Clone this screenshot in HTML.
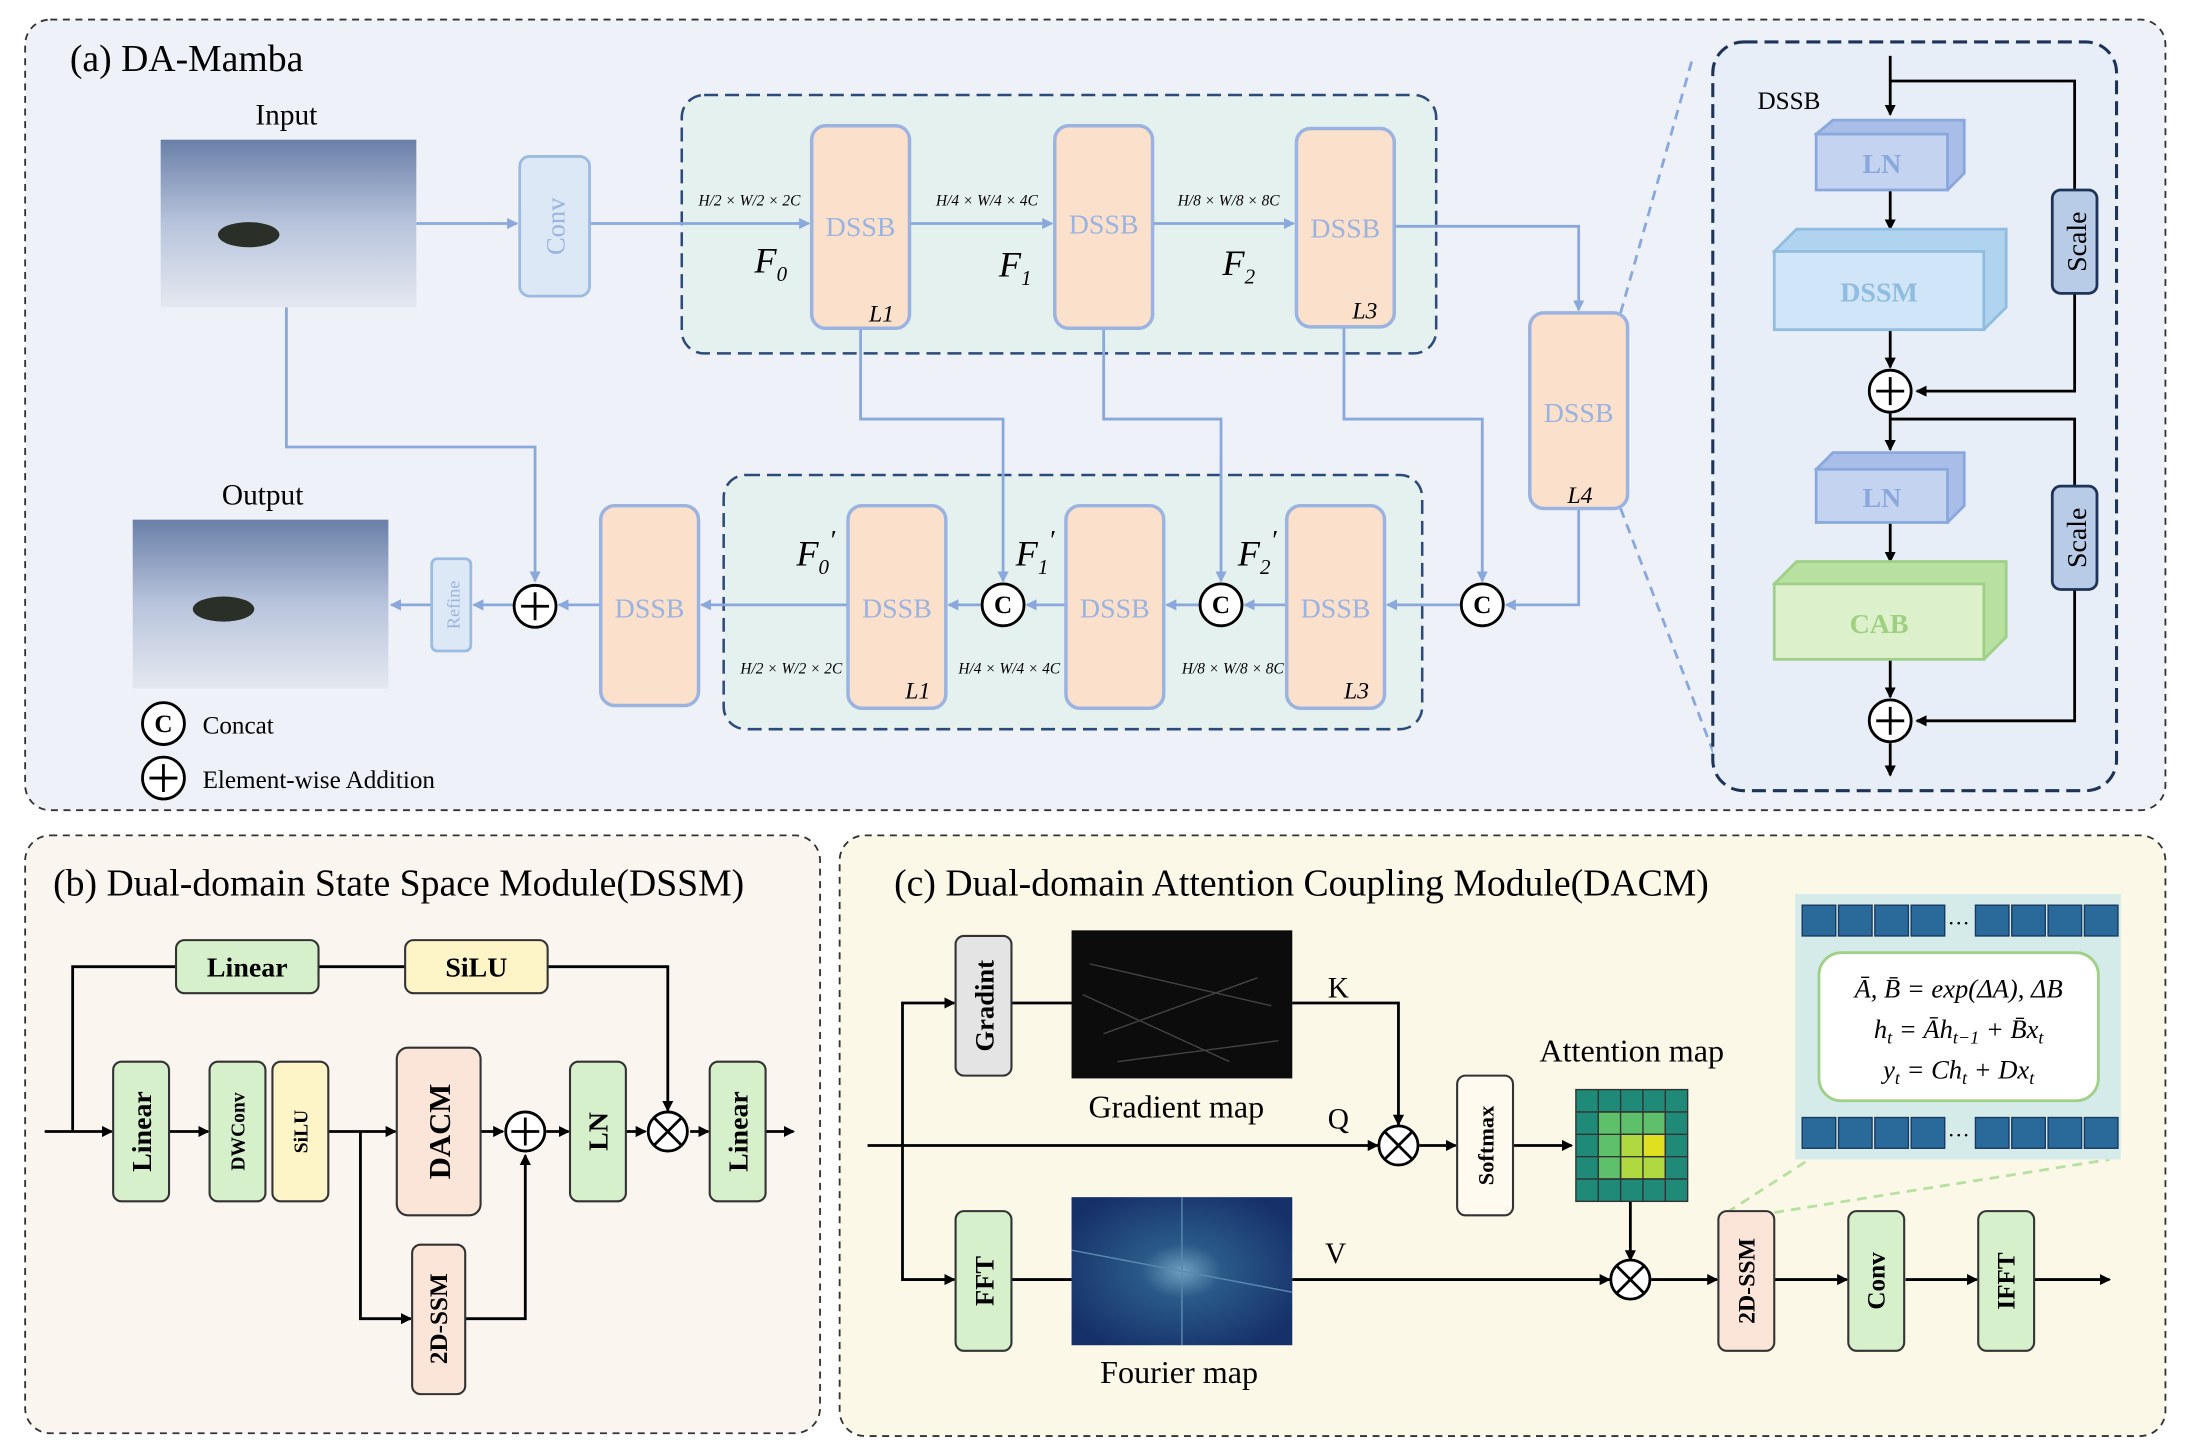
<!DOCTYPE html>
<html><head><meta charset="utf-8"><style>
html,body{margin:0;padding:0;background:#fff}
svg{display:block}
text{font-family:"Liberation Serif",serif}
</style></head><body>
<svg width="2185" height="1450" viewBox="0 0 1564 1038" preserveAspectRatio="none" xmlns="http://www.w3.org/2000/svg">
<defs>
<marker id="ab" markerWidth="8" markerHeight="8" refX="7" refY="4" orient="auto" markerUnits="userSpaceOnUse"><path d="M0,0 L8,4 L0,8 Z" fill="#8aa8dc"/></marker>
<marker id="ak" markerWidth="8" markerHeight="8" refX="7" refY="4" orient="auto" markerUnits="userSpaceOnUse"><path d="M0,0 L8,4 L0,8 Z" fill="#000"/></marker>
<linearGradient id="snow" x1="0" y1="0" x2="0" y2="1"><stop offset="0" stop-color="#6a7fa8"/><stop offset="0.5" stop-color="#b8c4dc"/><stop offset="1" stop-color="#e4e8f0"/></linearGradient>
<radialGradient id="four" cx="0.5" cy="0.5" r="0.6"><stop offset="0" stop-color="#6fa0c0"/><stop offset="0.3" stop-color="#2a5a88"/><stop offset="1" stop-color="#16306a"/></radialGradient>
</defs>
<rect width="1564" height="1038" fill="#fff"/>
<!-- Panel a -->
<rect x="18" y="14" width="1532" height="566" rx="18" fill="#eef2f8" stroke="#333" stroke-dasharray="5,4" stroke-width="1.3"/>
<text x="50" y="51" font-size="27">(a) DA-Mamba</text>
<text x="205" y="89" font-size="21" text-anchor="middle">Input</text>
<rect x="115" y="100" width="183" height="120" fill="url(#snow)"/>
<ellipse cx="178" cy="168" rx="22" ry="9" fill="#2a3028"/>
<text x="188" y="361" font-size="21" text-anchor="middle">Output</text>
<rect x="95" y="372" width="183" height="121" fill="url(#snow)"/>
<ellipse cx="160" cy="436" rx="22" ry="9" fill="#2a3028"/>
<!-- enc/dec boxes -->
<rect x="488" y="68" width="540" height="185" rx="16" fill="#e4f1ee" stroke="#2c4a7a" stroke-dasharray="10,5" stroke-width="1.8"/>
<rect x="518" y="340" width="500" height="182" rx="16" fill="#e4f1ee" stroke="#2c4a7a" stroke-dasharray="10,5" stroke-width="1.8"/>
<g fill="none" stroke="#8aa8dc" stroke-width="2">
<path d="M298,160 H370" marker-end="url(#ab)"/>
<path d="M422,160 H579" marker-end="url(#ab)"/>
<path d="M651,160 H753" marker-end="url(#ab)"/>
<path d="M825,160 H926" marker-end="url(#ab)"/>
<path d="M998,162 H1130 V222" marker-end="url(#ab)"/>
<path d="M1130,364 V433 H1078" marker-end="url(#ab)"/>
<path d="M1046,433 H993" marker-end="url(#ab)"/>
<path d="M921,433 H891" marker-end="url(#ab)"/>
<path d="M859,433 H835" marker-end="url(#ab)"/>
<path d="M763,433 H735" marker-end="url(#ab)"/>
<path d="M703,433 H679" marker-end="url(#ab)"/>
<path d="M607,433 H502" marker-end="url(#ab)"/>
<path d="M430,433 H400" marker-end="url(#ab)"/>
<path d="M368,433 H339" marker-end="url(#ab)"/>
<path d="M309,433 H280" marker-end="url(#ab)"/>
<path d="M205,220 V320 H383 V416" marker-end="url(#ab)"/>
<path d="M616,235 V300 H718 V416" marker-end="url(#ab)"/>
<path d="M790,235 V300 H874 V416" marker-end="url(#ab)"/>
<path d="M962,234 V300 H1061 V416" marker-end="url(#ab)"/>
<path d="M1160,224 L1212,40" stroke-dasharray="7,5"/>
<path d="M1160,364 L1230,548" stroke-dasharray="7,5"/>
</g>
<rect x="372" y="112" width="50" height="100" rx="7" fill="#dce8f5" stroke="#9bbbe0" stroke-width="2"/>
<text transform="translate(404,162) rotate(-90)" font-size="19" fill="#9bb3e0" text-anchor="middle">Conv</text>
<rect x="309" y="400" width="28" height="66" rx="4" fill="#dce8f5" stroke="#9bbbe0" stroke-width="2"/>
<text transform="translate(329,433) rotate(-90)" font-size="13" fill="#9bb3e0" text-anchor="middle">Refine</text>
<g fill="#fbe0cc" stroke="#9bb3e0" stroke-width="2.5">
<rect x="581" y="90" width="70" height="145" rx="10"/>
<rect x="755" y="90" width="70" height="145" rx="10"/>
<rect x="928" y="92" width="70" height="142" rx="10"/>
<rect x="1095" y="224" width="70" height="140" rx="10"/>
<rect x="607" y="362" width="70" height="145" rx="10"/>
<rect x="763" y="362" width="70" height="145" rx="10"/>
<rect x="921" y="362" width="70" height="145" rx="10"/>
<rect x="430" y="362" width="70" height="143" rx="10"/>
</g>
<g font-size="20" fill="#9bb3e0" text-anchor="middle">
<text x="616" y="169">DSSB</text><text x="790" y="167">DSSB</text><text x="963" y="170">DSSB</text>
<text x="1130" y="302">DSSB</text><text x="642" y="442">DSSB</text><text x="798" y="442">DSSB</text>
<text x="956" y="442">DSSB</text><text x="465" y="442">DSSB</text>
</g>
<g font-size="17" font-style="italic">
<text x="622" y="230">L1</text><text x="968" y="228">L3</text><text x="1122" y="360">L4</text>
<text x="648" y="500">L1</text><text x="962" y="500">L3</text>
</g>
<g font-size="26" font-style="italic">
<text x="540" y="195">F<tspan font-size="15" dy="6">0</tspan></text>
<text x="715" y="198">F<tspan font-size="15" dy="6">1</tspan></text>
<text x="875" y="197">F<tspan font-size="15" dy="6">2</tspan></text>
<text x="570" y="405">F<tspan font-size="15" dy="6">0</tspan><tspan dy="-18" font-size="20">′</tspan></text>
<text x="727" y="405">F<tspan font-size="15" dy="6">1</tspan><tspan dy="-18" font-size="20">′</tspan></text>
<text x="886" y="405">F<tspan font-size="15" dy="6">2</tspan><tspan dy="-18" font-size="20">′</tspan></text>
</g>
<g font-size="11" font-style="italic">
<text x="500" y="147">H/2 × W/2 × 2C</text><text x="670" y="147">H/4 × W/4 × 4C</text><text x="843" y="147">H/8 × W/8 × 8C</text>
<text x="530" y="482">H/2 × W/2 × 2C</text><text x="686" y="482">H/4 × W/4 × 4C</text><text x="846" y="482">H/8 × W/8 × 8C</text>
</g>
<g fill="#fff" stroke="#000" stroke-width="2">
<circle cx="383" cy="434" r="15"/><circle cx="718" cy="433" r="15"/><circle cx="874" cy="433" r="15"/><circle cx="1061" cy="433" r="15"/>
<circle cx="117" cy="518" r="15"/><circle cx="117" cy="557" r="15"/>
</g>
<g stroke="#000" stroke-width="2"><path d="M373,434 H393 M383,424 V444 M107,557 H127 M117,547 V567"/></g>
<g font-size="18" font-weight="bold" text-anchor="middle" font-family="Liberation Sans">
<text x="718" y="439">C</text><text x="874" y="439">C</text><text x="1061" y="439">C</text><text x="117" y="524">C</text>
</g>
<text x="145" y="525" font-size="18">Concat</text>
<text x="145" y="564" font-size="18">Element-wise Addition</text>
<!-- DSSB detail -->
<rect x="1226" y="30" width="289" height="536" rx="22" fill="#e8eef8" stroke="#1e3358" stroke-dasharray="10,5" stroke-width="2.2"/>
<text x="1258" y="78" font-size="18" font-family="Liberation Sans">DSSB</text>
<g fill="none" stroke="#000" stroke-width="2">
<path d="M1353,40 V82" marker-end="url(#ak)"/>
<path d="M1353,58 H1485 V280 H1372" marker-end="url(#ak)"/>
<path d="M1353,136 V164" marker-end="url(#ak)"/>
<path d="M1353,236 V263" marker-end="url(#ak)"/>
<path d="M1353,296 V322" marker-end="url(#ak)"/>
<path d="M1353,300 H1485 V516 H1372" marker-end="url(#ak)"/>
<path d="M1353,374 V402" marker-end="url(#ak)"/>
<path d="M1353,472 V499" marker-end="url(#ak)"/>
<path d="M1353,532 V555" marker-end="url(#ak)"/>
</g>
<g stroke-width="2">
<path d="M1300,96 L1312,86 H1406 V124 L1394,136 Z" fill="#a8bde8" stroke="#8aa8dc"/>
<rect x="1300" y="96" width="94" height="40" fill="#c4d4f0" stroke="#8aa8dc"/>
<path d="M1270,180 L1286,164 H1436 V220 L1420,236 Z" fill="#b0d4f0" stroke="#90bce0"/>
<rect x="1270" y="180" width="150" height="56" fill="#d0e6f8" stroke="#90bce0"/>
<path d="M1300,336 L1312,324 H1406 V362 L1394,374 Z" fill="#a8bde8" stroke="#8aa8dc"/>
<rect x="1300" y="336" width="94" height="38" fill="#c4d4f0" stroke="#8aa8dc"/>
<path d="M1270,418 L1286,402 H1436 V456 L1420,472 Z" fill="#b8e0a0" stroke="#a0d088"/>
<rect x="1270" y="418" width="150" height="54" fill="#dcf0cc" stroke="#a0d088"/>
</g>
<g font-size="20" font-weight="bold" text-anchor="middle" fill="#8aa8dc">
<text x="1347" y="124">LN</text><text x="1345" y="216" fill="#90bce0">DSSM</text><text x="1347" y="363">LN</text><text x="1345" y="453" fill="#9ed080">CAB</text>
</g>
<g fill="#fff" stroke="#000" stroke-width="2"><circle cx="1353" cy="280" r="15"/><circle cx="1353" cy="516" r="15"/></g>
<path d="M1343,280 H1363 M1353,270 V290 M1343,516 H1363 M1353,506 V526" stroke="#000" stroke-width="2"/>
<rect x="1469" y="136" width="32" height="74" rx="6" fill="#b8cce8" stroke="#1e3358" stroke-width="2"/>
<rect x="1469" y="348" width="32" height="74" rx="6" fill="#b8cce8" stroke="#1e3358" stroke-width="2"/>
<text transform="translate(1493,173) rotate(-90)" font-size="20" text-anchor="middle" font-family="Liberation Sans">Scale</text>
<text transform="translate(1493,385) rotate(-90)" font-size="20" text-anchor="middle" font-family="Liberation Sans">Scale</text>
<!-- Panel b -->
<rect x="18" y="598" width="569" height="428" rx="18" fill="#fbf5f0" stroke="#333" stroke-dasharray="5,4" stroke-width="1.3"/>
<text x="38" y="641" font-size="27">(b) Dual-domain State Space Module(DSSM)</text>
<g fill="none" stroke="#000" stroke-width="2">
<path d="M32,810 H80" marker-end="url(#ak)"/>
<path d="M52,810 V692 H126 M228,692 H290 M392,692 H478 V795" marker-end="url(#ak)"/>
<path d="M121,810 H149" marker-end="url(#ak)"/>
<path d="M235,810 H283" marker-end="url(#ak)"/>
<path d="M258,810 V944 H294" marker-end="url(#ak)"/>
<path d="M344,810 H360" marker-end="url(#ak)"/>
<path d="M333,944 H376 V827" marker-end="url(#ak)"/>
<path d="M391,810 H407" marker-end="url(#ak)"/>
<path d="M448,810 H462" marker-end="url(#ak)"/>
<path d="M494,810 H507" marker-end="url(#ak)"/>
<path d="M548,810 H568" marker-end="url(#ak)"/>
</g>
<g stroke="#333" stroke-width="1.5">
<rect x="126" y="673" width="102" height="38" rx="6" fill="#d6f0cc"/>
<rect x="290" y="673" width="102" height="38" rx="6" fill="#fdf4c8"/>
<rect x="81" y="760" width="40" height="100" rx="6" fill="#d6f0cc"/>
<rect x="150" y="760" width="40" height="100" rx="6" fill="#d6f0cc"/>
<rect x="195" y="760" width="40" height="100" rx="6" fill="#fdf4c8"/>
<rect x="284" y="750" width="60" height="120" rx="8" fill="#fbe4d8"/>
<rect x="295" y="891" width="38" height="107" rx="6" fill="#fbe4d8"/>
<rect x="408" y="760" width="40" height="100" rx="6" fill="#d6f0cc"/>
<rect x="508" y="760" width="40" height="100" rx="6" fill="#d6f0cc"/>
</g>
<g font-weight="bold" text-anchor="middle">
<text x="177" y="699" font-size="20">Linear</text><text x="341" y="699" font-size="20">SiLU</text>
<text transform="translate(108,810) rotate(-90)" font-size="20">Linear</text>
<text transform="translate(175,810) rotate(-90)" font-size="14">DWConv</text>
<text transform="translate(220,810) rotate(-90)" font-size="14">SiLU</text>
<text transform="translate(322,810) rotate(-90)" font-size="22">DACM</text>
<text transform="translate(320,944) rotate(-90)" font-size="18">2D-SSM</text>
<text transform="translate(435,810) rotate(-90)" font-size="20">LN</text>
<text transform="translate(535,810) rotate(-90)" font-size="20">Linear</text>
</g>
<g fill="#fff" stroke="#000" stroke-width="2"><circle cx="376" cy="810" r="14"/><circle cx="478" cy="810" r="14"/></g>
<path d="M366,810 H386 M376,800 V820 M468,800 L488,820 M488,800 L468,820" stroke="#000" stroke-width="2"/>
<!-- Panel c -->
<rect x="601" y="598" width="949" height="430" rx="18" fill="#fbf8e8" stroke="#333" stroke-dasharray="5,4" stroke-width="1.3"/>
<text x="640" y="641" font-size="27">(c) Dual-domain Attention Coupling Module(DACM)</text>
<g fill="none" stroke="#000" stroke-width="2">
<path d="M621,820 H986" marker-end="url(#ak)"/>
<path d="M646,820 V718 H683" marker-end="url(#ak)"/>
<path d="M646,820 V916 H683" marker-end="url(#ak)"/>
<path d="M724,718 H767 M925,718 H1001 V805" marker-end="url(#ak)"/>
<path d="M1016,820 H1042" marker-end="url(#ak)"/>
<path d="M1082,820 H1125" marker-end="url(#ak)"/>
<path d="M1167,860 V902" marker-end="url(#ak)"/>
<path d="M724,916 H767 M925,916 H1152" marker-end="url(#ak)"/>
<path d="M1182,916 H1229" marker-end="url(#ak)"/>
<path d="M1270,916 H1322" marker-end="url(#ak)"/>
<path d="M1364,916 H1415" marker-end="url(#ak)"/>
<path d="M1456,916 H1510" marker-end="url(#ak)"/>
</g>
<path d="M1236,868 L1295,830 M1270,868 L1510,830" stroke="#b8e0a0" stroke-width="2" stroke-dasharray="7,5" fill="none"/>
<g stroke="#333" stroke-width="1.5">
<rect x="684" y="670" width="40" height="100" rx="6" fill="#e4e4e4"/>
<rect x="684" y="867" width="40" height="100" rx="6" fill="#d6f0cc"/>
<rect x="1043" y="770" width="40" height="100" rx="6" fill="#fffaf0"/>
<rect x="1230" y="867" width="40" height="100" rx="6" fill="#fbe4d8"/>
<rect x="1323" y="867" width="40" height="100" rx="6" fill="#d6f0cc"/>
<rect x="1416" y="867" width="40" height="100" rx="6" fill="#d6f0cc"/>
</g>
<g font-weight="bold" text-anchor="middle">
<text transform="translate(711,720) rotate(-90)" font-size="19">Gradint</text>
<text transform="translate(711,917) rotate(-90)" font-size="19">FFT</text>
<text transform="translate(1069,820) rotate(-90)" font-size="16">Softmax</text>
<text transform="translate(1256,917) rotate(-90)" font-size="17">2D-SSM</text>
<text transform="translate(1349,917) rotate(-90)" font-size="18">Conv</text>
<text transform="translate(1442,917) rotate(-90)" font-size="18">IFFT</text>
</g>
<rect x="767" y="666" width="158" height="106" fill="#0c0c0c"/>
<path d="M780,690 L910,720 M790,740 L900,700 M800,760 L915,745 M775,712 L880,760" stroke="#444" stroke-width="1"/>
<rect x="767" y="857" width="158" height="106" fill="url(#four)"/>
<path d="M767,895 L925,925 M846,857 V963" stroke="#5a8ab0" stroke-width="1"/>
<text x="842" y="800" font-size="23" text-anchor="middle">Gradient map</text>
<text x="844" y="990" font-size="23" text-anchor="middle">Fourier map</text>
<text x="958" y="714" font-size="21" text-anchor="middle">K</text>
<text x="958" y="808" font-size="21" text-anchor="middle">Q</text>
<text x="956" y="904" font-size="21" text-anchor="middle">V</text>
<text x="1168" y="760" font-size="23" text-anchor="middle">Attention map</text>
<g stroke="#333" stroke-width="1">
<rect x="1128" y="780" width="80" height="80" fill="#1f8a78"/>
<rect x="1144" y="796" width="48" height="48" fill="#5ec06a"/>
<rect x="1160" y="812" width="32" height="32" fill="#b0d840"/>
<rect x="1176" y="812" width="16" height="16" fill="#e0e020"/>
</g>
<path d="M1128,796 H1208 M1128,812 H1208 M1128,828 H1208 M1128,844 H1208 M1144,780 V860 M1160,780 V860 M1176,780 V860 M1192,780 V860" stroke="#333" stroke-width="1"/>
<g fill="#fff" stroke="#000" stroke-width="2"><circle cx="1001" cy="820" r="14"/><circle cx="1167" cy="916" r="14"/></g>
<path d="M991,810 L1011,830 M1011,810 L991,830 M1157,906 L1177,926 M1177,906 L1157,926" stroke="#000" stroke-width="2"/>
<rect x="1285" y="640" width="233" height="190" fill="#d4ebea"/>
<g fill="#2a6a9a" stroke="#1a3a60" stroke-width="1">
<rect x="1290" y="648" width="24" height="22"/><rect x="1316" y="648" width="24" height="22"/><rect x="1342" y="648" width="24" height="22"/><rect x="1368" y="648" width="24" height="22"/>
<rect x="1414" y="648" width="24" height="22"/><rect x="1440" y="648" width="24" height="22"/><rect x="1466" y="648" width="24" height="22"/><rect x="1492" y="648" width="24" height="22"/>
<rect x="1290" y="800" width="24" height="22"/><rect x="1316" y="800" width="24" height="22"/><rect x="1342" y="800" width="24" height="22"/><rect x="1368" y="800" width="24" height="22"/>
<rect x="1414" y="800" width="24" height="22"/><rect x="1440" y="800" width="24" height="22"/><rect x="1466" y="800" width="24" height="22"/><rect x="1492" y="800" width="24" height="22"/>
</g>
<text x="1402" y="666" font-size="16" text-anchor="middle">···</text>
<text x="1402" y="818" font-size="16" text-anchor="middle">···</text>
<rect x="1302" y="682" width="200" height="106" rx="16" fill="#fff" stroke="#a0d088" stroke-width="2"/>
<g font-size="19" font-style="italic" text-anchor="middle">
<text x="1402" y="714">Ā, B̄ = exp(ΔA), ΔB</text>
<text x="1402" y="743">h<tspan font-size="13" dy="4">t</tspan><tspan dy="-4"> = Āh</tspan><tspan font-size="13" dy="4">t−1</tspan><tspan dy="-4"> + B̄x</tspan><tspan font-size="13" dy="4">t</tspan></text>
<text x="1402" y="772">y<tspan font-size="13" dy="4">t</tspan><tspan dy="-4"> = Ch</tspan><tspan font-size="13" dy="4">t</tspan><tspan dy="-4"> + Dx</tspan><tspan font-size="13" dy="4">t</tspan></text>
</g>
</svg>
</body></html>
